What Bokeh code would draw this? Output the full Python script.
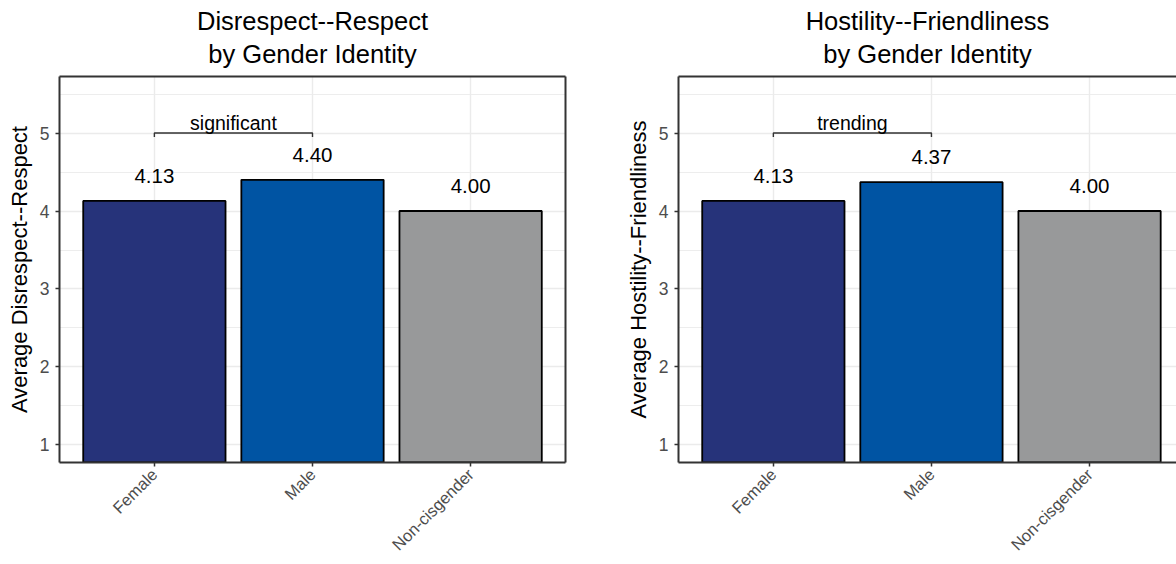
import math
from bokeh.plotting import figure
from bokeh.layouts import row
from bokeh.models import Range1d, FixedTicker, LinearAxis, Title, ColumnDataSource
from bokeh.embed import file_html
from bokeh.resources import INLINE

# Group means per panel
groups = ["Female", "Male", "Non-cisgender"]
positions = [1, 2, 3]
respect_means = [4.13, 4.40, 4.00]
friendliness_means = [4.13, 4.37, 4.00]
bar_colors = ["#26337A", "#0054A3", "#98999A"]

# Pairwise comparison annotations: (from group, to group, height, label)
respect_bracket = (1, 2, 5.0, "significant")
friendliness_bracket = (1, 2, 5.0, "trending")

y_ticks = [1, 2, 3, 4, 5]
y_minor = [1.5, 2.5, 3.5, 4.5, 5.5]

FONT = "Liberation Sans"
BORDER = "#333333"
GRID = "#EBEBEB"


def border_axis(p, side):
    ax = LinearAxis(ticker=FixedTicker(ticks=[]))
    ax.major_label_text_font_size = "0px"
    ax.major_tick_line_color = None
    ax.minor_tick_line_color = None
    ax.axis_line_color = BORDER
    ax.axis_line_width = 2
    p.add_layout(ax, side)


def heading(text, standoff):
    return Title(text=text, align="center", text_font=FONT,
                 text_font_size="25.5px", text_font_style="normal",
                 text_color="black", standoff=standoff)


def panel(title, ylabel, means, bracket, width, left, right, x_end, draw_right):
    p = figure(width=width, height=564, output_backend="svg", toolbar_location=None,
               x_range=Range1d(0.4, x_end), y_range=Range1d(0.775, 5.725),
               min_border_left=left, min_border_right=right,
               min_border_top=76, min_border_bottom=102)
    p.outline_line_color = None
    p.background_fill_color = "white"
    p.border_fill_color = "white"
    xa = p.below[0]
    ya = p.left[0]

    # frame edges drawn as bare axes (top first, so it hugs the frame)
    border_axis(p, "above")
    if draw_right:
        border_axis(p, "right")

    # two-line heading, inner line first so it sits next to the frame
    p.add_layout(heading("by Gender Identity", 17), "above")
    p.add_layout(heading(title, -10), "above")

    src = ColumnDataSource(dict(x=positions, top=means, color=bar_colors,
                                label=[f"{v:.2f}" for v in means]))
    p.vbar(x="x", top="top", bottom=0, width=0.9, fill_color="color",
           line_color="black", line_width=1.8, source=src)
    p.text(x="x", y="top", text="label", source=src, text_align="center",
           text_baseline="alphabetic", y_offset=-25, text_font_size="20.5px",
           text_font={"value": FONT}, text_color="black")

    x0, x1, yb, lab = bracket
    tip = 0.05
    p.line(x=[x0, x0, x1, x1], y=[yb - tip, yb, yb, yb - tip],
           line_color=BORDER, line_width=1.4)
    p.text(x=[(x0 + x1) / 2], y=[yb], text=[lab], text_align="center",
           text_baseline="alphabetic", y_offset=-10, text_font_size="19.5px",
           text_font={"value": FONT}, text_color="black")

    xa.ticker = FixedTicker(ticks=positions)
    xa.major_label_overrides = {pos: g for pos, g in zip(positions, groups)}
    xa.major_label_orientation = math.pi / 4
    xa.major_label_text_font = FONT
    xa.major_label_text_font_size = "16.5px"
    xa.major_label_text_color = "#4D4D4D"
    xa.major_label_standoff = 5
    xa.major_tick_in = 0
    xa.major_tick_out = 4
    xa.major_tick_line_color = BORDER
    xa.major_tick_line_width = 1.5
    xa.minor_tick_line_color = None
    xa.axis_line_color = BORDER
    xa.axis_line_width = 2

    ya.ticker = FixedTicker(ticks=y_ticks, minor_ticks=y_minor)
    ya.axis_label = ylabel
    ya.axis_label_text_font = FONT
    ya.axis_label_text_font_size = "22px"
    ya.axis_label_text_font_style = "normal"
    ya.axis_label_text_color = "black"
    ya.axis_label_standoff = 5
    ya.major_label_text_font = FONT
    ya.major_label_text_font_size = "17.5px"
    ya.major_label_text_color = "#4D4D4D"
    ya.major_label_standoff = 6
    ya.major_tick_in = 0
    ya.major_tick_out = 4
    ya.major_tick_line_color = BORDER
    ya.major_tick_line_width = 1.5
    ya.minor_tick_line_color = None
    ya.axis_line_color = BORDER
    ya.axis_line_width = 2

    p.xgrid.grid_line_color = GRID
    p.xgrid.grid_line_width = 1.4
    p.ygrid.grid_line_color = GRID
    p.ygrid.grid_line_width = 1.4
    p.ygrid.minor_grid_line_color = GRID
    p.ygrid.minor_grid_line_width = 0.9
    return p


p1 = panel("Disrespect--Respect", "Average Disrespect--Respect", respect_means,
           respect_bracket, 600, 59, 35, 3.6, True)
p2 = panel("Hostility--Friendliness", "Average Hostility--Friendliness", friendliness_means,
           friendliness_bracket, 576, 78, 0, 3.55, False)

layout = row(p1, p2)
open("out.html", "w").write(file_html(layout, INLINE))
